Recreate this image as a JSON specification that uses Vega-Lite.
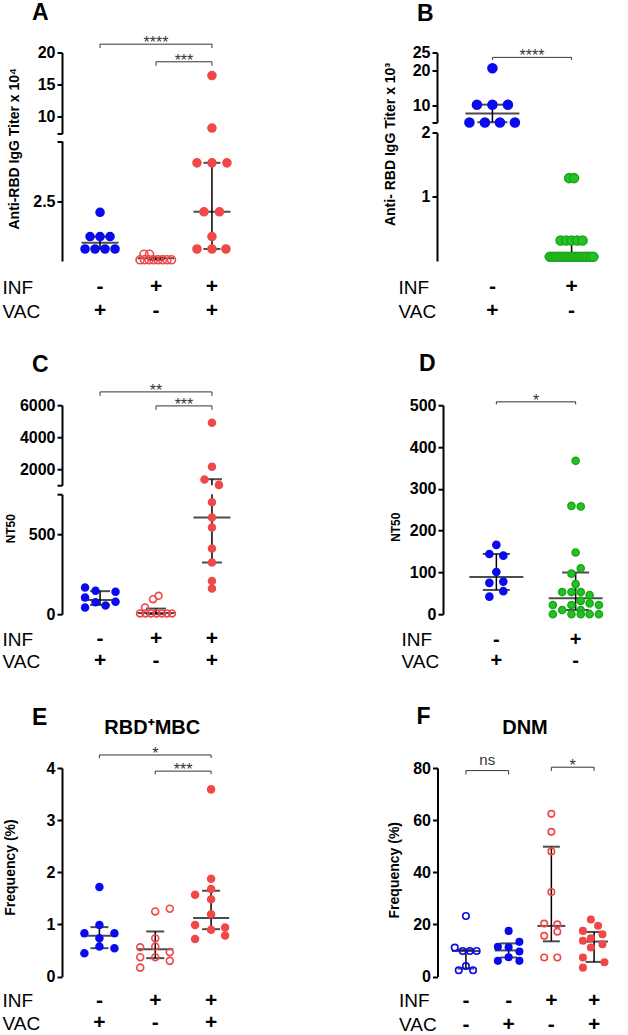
{
"$schema": "https://vega.github.io/schema/vega-lite/v6.json",
"background": "white",
"padding": {"left": 2, "top": 1.5, "right": 0, "bottom": 0},
"spacing": 30.7,
"resolve": {"scale": {"x": "independent", "y": "independent", "xOffset": "independent"}},
"config": {
  "view": {"stroke": null},
  "font": "Liberation Sans",
  "axis": {"grid": false, "domainColor": "#000", "domainWidth": 2, "tickColor": "#000", "tickWidth": 2, "tickSize": 5, "labelFontSize": 16, "labelFontWeight": "bold", "labelColor": "#000", "labelPadding": 2, "titleFontSize": 14, "titleFontWeight": "bold", "titleColor": "#000"},
  "title": {"fontWeight": "bold", "color": "#000", "anchor": "start", "frame": "group", "baseline": "alphabetic", "fontSize": 23},
  "text": {"font": "Liberation Sans"},
  "tick": {"thickness": 2}
},
"datasets": {
  "t3": [{"g":"g1","r":"INF","s":"-"},{"g":"g1","r":"VAC","s":"+"},{"g":"g2","r":"INF","s":"+"},{"g":"g2","r":"VAC","s":"-"},{"g":"g3","r":"INF","s":"+"},{"g":"g3","r":"VAC","s":"+"}],
  "t2": [{"g":"g1","r":"INF","s":"-"},{"g":"g1","r":"VAC","s":"+"},{"g":"g2","r":"INF","s":"+"},{"g":"g2","r":"VAC","s":"-"}],
  "t4": [{"g":"g1","r":"INF","s":"-"},{"g":"g1","r":"VAC","s":"-"},{"g":"g2","r":"INF","s":"-"},{"g":"g2","r":"VAC","s":"+"},{"g":"g3","r":"INF","s":"+"},{"g":"g3","r":"VAC","s":"-"},{"g":"g4","r":"INF","s":"+"},{"g":"g4","r":"VAC","s":"+"}],
  "aP": [
    {"g":"g1","v":2.03,"dx":0,"k":"vac"},{"g":"g1","v":1.02,"dx":-1,"k":"vac"},{"g":"g1","v":1.02,"dx":0,"k":"vac"},{"g":"g1","v":1.02,"dx":1,"k":"vac"},
    {"g":"g1","v":0.5,"dx":-1.5,"k":"vac"},{"g":"g1","v":0.5,"dx":-0.5,"k":"vac"},{"g":"g1","v":0.5,"dx":0.5,"k":"vac"},{"g":"g1","v":0.5,"dx":1.5,"k":"vac"},
    {"g":"g2","v":0.28,"dx":-1.2,"k":"inf"},{"g":"g2","v":0.28,"dx":-0.65,"k":"inf"},
    {"g":"g2","v":0.05,"dx":-1.6,"k":"inf"},{"g":"g2","v":0.05,"dx":-1.15,"k":"inf"},{"g":"g2","v":0.05,"dx":-0.7,"k":"inf"},{"g":"g2","v":0.05,"dx":-0.25,"k":"inf"},
    {"g":"g2","v":0.05,"dx":0.2,"k":"inf"},{"g":"g2","v":0.05,"dx":0.65,"k":"inf"},{"g":"g2","v":0.05,"dx":1.1,"k":"inf"},{"g":"g2","v":0.05,"dx":1.55,"k":"inf"},
    {"g":"g3","v":16.4,"dx":0,"k":"hyb"},{"g":"g3","v":8.2,"dx":0,"k":"hyb"},
    {"g":"g3","v":4.09,"dx":-1.5,"k":"hyb"},{"g":"g3","v":4.09,"dx":0,"k":"hyb"},{"g":"g3","v":4.09,"dx":1.5,"k":"hyb"},
    {"g":"g3","v":2.05,"dx":-0.8,"k":"hyb"},{"g":"g3","v":2.05,"dx":0.75,"k":"hyb"},{"g":"g3","v":1.02,"dx":0,"k":"hyb"},
    {"g":"g3","v":0.5,"dx":-1.5,"k":"hyb"},{"g":"g3","v":0.5,"dx":0,"k":"hyb"},{"g":"g3","v":0.5,"dx":1.4,"k":"hyb"}
  ],
  "aS": [{"g":"g1","med":0.76,"lo":0.5,"hi":1.01},{"g":"g2","med":0.11,"lo":0.05,"hi":0.14},{"g":"g3","med":2.05,"lo":0.5,"hi":4.09}],
  "aK": [{"g1":"g1","g2":"g3","lvl":21.3,"end":20.68,"txt":"****","tg":"g2","tdx":0},{"g1":"g2","g2":"g3","lvl":18.55,"end":17.93,"txt":"***","tg":"g2","tdx":2.8}],
  "bP": [
    {"g":"g1","v":20.5,"dx":0,"k":"vac"},{"g":"g1","v":10.1,"dx":-1.55,"k":"vac"},{"g":"g1","v":10.1,"dx":0,"k":"vac"},{"g":"g1","v":10.1,"dx":1.55,"k":"vac"},
    {"g":"g1","v":5.0,"dx":-2.3,"k":"vac"},{"g":"g1","v":5.0,"dx":-0.75,"k":"vac"},{"g":"g1","v":5.0,"dx":0.75,"k":"vac"},{"g":"g1","v":5.0,"dx":2.25,"k":"vac"},
    {"g":"g2","v":1.29,"dx":-0.25,"k":"conv"},{"g":"g2","v":1.29,"dx":0.25,"k":"conv"},
    {"g":"g2","v":0.32,"dx":-1.1,"k":"conv"},{"g":"g2","v":0.32,"dx":-0.55,"k":"conv"},{"g":"g2","v":0.32,"dx":0,"k":"conv"},{"g":"g2","v":0.32,"dx":0.55,"k":"conv"},{"g":"g2","v":0.32,"dx":1.1,"k":"conv"},
    {"g":"g2","v":0.067,"dx":-2.17,"k":"conv"},{"g":"g2","v":0.067,"dx":-1.88,"k":"conv"},{"g":"g2","v":0.067,"dx":-1.59,"k":"conv"},{"g":"g2","v":0.067,"dx":-1.3,"k":"conv"},
    {"g":"g2","v":0.067,"dx":-1.01,"k":"conv"},{"g":"g2","v":0.067,"dx":-0.72,"k":"conv"},{"g":"g2","v":0.067,"dx":-0.43,"k":"conv"},{"g":"g2","v":0.067,"dx":-0.14,"k":"conv"},
    {"g":"g2","v":0.067,"dx":0.14,"k":"conv"},{"g":"g2","v":0.067,"dx":0.43,"k":"conv"},{"g":"g2","v":0.067,"dx":0.72,"k":"conv"},{"g":"g2","v":0.067,"dx":1.01,"k":"conv"},
    {"g":"g2","v":0.067,"dx":1.3,"k":"conv"},{"g":"g2","v":0.067,"dx":1.59,"k":"conv"},{"g":"g2","v":0.067,"dx":1.88,"k":"conv"},{"g":"g2","v":0.067,"dx":2.17,"k":"conv"}
  ],
  "bS": [{"g":"g1","med":7.6,"lo":5.08,"hi":10.1},{"g":"g2","med":0.07,"lo":0.07,"hi":0.325}],
  "bK": [{"g1":"g1","g2":"g2","lvl":23.6,"end":22.9,"txt":"****","tg":"g1","tdx":3.96}],
  "cP": [
    {"g":"g1","v":167,"dx":-1.5,"k":"vac"},{"g":"g1","v":146,"dx":-0.45,"k":"vac"},{"g":"g1","v":140,"dx":1.55,"k":"vac"},{"g":"g1","v":104,"dx":-1.5,"k":"vac"},
    {"g":"g1","v":75,"dx":-0.45,"k":"vac"},{"g":"g1","v":78,"dx":1.55,"k":"vac"},{"g":"g1","v":55,"dx":0.55,"k":"vac"},{"g":"g1","v":42,"dx":-1.5,"k":"vac"},
    {"g":"g2","v":115,"dx":0.25,"k":"inf"},{"g":"g2","v":94,"dx":-0.3,"k":"inf"},{"g":"g2","v":42,"dx":-1.1,"k":"inf"},
    {"g":"g2","v":5,"dx":-1.6,"k":"inf"},{"g":"g2","v":5,"dx":-1.05,"k":"inf"},{"g":"g2","v":5,"dx":-0.5,"k":"inf"},{"g":"g2","v":5,"dx":0.05,"k":"inf"},
    {"g":"g2","v":5,"dx":0.6,"k":"inf"},{"g":"g2","v":5,"dx":1.1,"k":"inf"},{"g":"g2","v":5,"dx":1.6,"k":"inf"},
    {"g":"g3","v":4900,"dx":0,"k":"hyb"},{"g":"g3","v":2150,"dx":0,"k":"hyb"},{"g":"g3","v":1350,"dx":-0.75,"k":"hyb"},{"g":"g3","v":1020,"dx":0.7,"k":"hyb"},
    {"g":"g3","v":700,"dx":0,"k":"hyb"},{"g":"g3","v":604,"dx":0,"k":"hyb"},{"g":"g3","v":542,"dx":0,"k":"hyb"},{"g":"g3","v":410,"dx":0,"k":"hyb"},
    {"g":"g3","v":323,"dx":0,"k":"hyb"},{"g":"g3","v":208,"dx":0,"k":"hyb"},{"g":"g3","v":160,"dx":0,"k":"hyb"}
  ],
  "cS": [{"g":"g1","med":89,"lo":58,"hi":144},{"g":"g2","med":8,"lo":1,"hi":35},{"g":"g3","med":604,"lo":323,"hi":1375}],
  "cK": [{"g1":"g1","g2":"g3","lvl":6831,"end":6581,"txt":"**","tg":"g2","tdx":0},{"g1":"g2","g2":"g3","lvl":5956,"end":5706,"txt":"***","tg":"g2","tdx":2.8}],
  "dP": [
    {"g":"g1","v":166,"dx":0,"k":"vac"},{"g":"g1","v":144,"dx":-0.75,"k":"vac"},{"g":"g1","v":140,"dx":0.75,"k":"vac"},{"g":"g1","v":101,"dx":0,"k":"vac"},
    {"g":"g1","v":78,"dx":0.75,"k":"vac"},{"g":"g1","v":75,"dx":-0.75,"k":"vac"},{"g":"g1","v":55,"dx":0.75,"k":"vac"},{"g":"g1","v":42,"dx":-0.75,"k":"vac"},
    {"g":"g2","v":367,"dx":0,"k":"conv"},{"g":"g2","v":259,"dx":-0.45,"k":"conv"},{"g":"g2","v":257.6,"dx":0.55,"k":"conv"},{"g":"g2","v":147.6,"dx":0,"k":"conv"},
    {"g":"g2","v":110,"dx":0.55,"k":"conv"},{"g":"g2","v":97,"dx":-0.45,"k":"conv"},{"g":"g2","v":72,"dx":0,"k":"conv"},
    {"g":"g2","v":53,"dx":-1.45,"k":"conv"},{"g":"g2","v":53,"dx":-0.45,"k":"conv"},{"g":"g2","v":53,"dx":0.55,"k":"conv"},{"g":"g2","v":46,"dx":1.5,"k":"conv"},
    {"g":"g2","v":32,"dx":0.55,"k":"conv"},{"g":"g2","v":26,"dx":1.5,"k":"conv"},
    {"g":"g2","v":22,"dx":-2.45,"k":"conv"},{"g":"g2","v":22,"dx":-0.45,"k":"conv"},{"g":"g2","v":22,"dx":2.5,"k":"conv"},
    {"g":"g2","v":10,"dx":-1.45,"k":"conv"},{"g":"g2","v":10,"dx":0.55,"k":"conv"},
    {"g":"g2","v":0,"dx":-2.45,"k":"conv"},{"g":"g2","v":0,"dx":-0.45,"k":"conv"},{"g":"g2","v":0,"dx":0.55,"k":"conv"},{"g":"g2","v":0,"dx":1.5,"k":"conv"},{"g":"g2","v":0,"dx":2.5,"k":"conv"}
  ],
  "dS": [{"g":"g1","med":89,"lo":58,"hi":144},{"g":"g2","med":38.3,"lo":10.3,"hi":99.7}],
  "dK": [{"g1":"g1","g2":"g2","lvl":508,"end":502,"txt":"*","tg":"g1","tdx":4.26}],
  "eP": [
    {"g":"g1","v":1.715,"dx":0,"k":"vac"},{"g":"g1","v":0.99,"dx":0,"k":"vac"},{"g":"g1","v":0.83,"dx":-1.5,"k":"vac"},{"g":"g1","v":0.83,"dx":1.5,"k":"vac"},
    {"g":"g1","v":0.735,"dx":0,"k":"vac"},{"g":"g1","v":0.575,"dx":0,"k":"vac"},{"g":"g1","v":0.543,"dx":1.5,"k":"vac"},{"g":"g1","v":0.447,"dx":-1.5,"k":"vac"},
    {"g":"g2","v":1.248,"dx":0,"k":"inf"},{"g":"g2","v":1.3,"dx":1.45,"k":"inf"},{"g":"g2","v":0.735,"dx":0,"k":"inf"},{"g":"g2","v":0.575,"dx":0,"k":"inf"},
    {"g":"g2","v":0.37,"dx":0,"k":"inf"},{"g":"g2","v":0.56,"dx":-1.5,"k":"inf"},{"g":"g2","v":0.37,"dx":-1.5,"k":"inf"},{"g":"g2","v":0.17,"dx":-1.5,"k":"inf"},
    {"g":"g2","v":0.466,"dx":1.45,"k":"inf"},{"g":"g2","v":0.3,"dx":1.45,"k":"inf"},
    {"g":"g3","v":3.59,"dx":0,"k":"hyb"},{"g":"g3","v":1.874,"dx":0,"k":"hyb"},{"g":"g3","v":1.68,"dx":0,"k":"hyb"},{"g":"g3","v":1.567,"dx":-1.6,"k":"hyb"},
    {"g":"g3","v":1.484,"dx":0,"k":"hyb"},{"g":"g3","v":1.196,"dx":0,"k":"hyb"},{"g":"g3","v":0.99,"dx":-1.6,"k":"hyb"},{"g":"g3","v":0.94,"dx":1.4,"k":"hyb"},
    {"g":"g3","v":0.895,"dx":0,"k":"hyb"},{"g":"g3","v":0.787,"dx":1.4,"k":"hyb"},{"g":"g3","v":0.72,"dx":-1.6,"k":"hyb"}
  ],
  "eS": [{"g":"g1","med":0.78,"lo":0.543,"hi":0.947},{"g":"g2","med":0.525,"lo":0.352,"hi":0.864},{"g":"g3","med":1.12,"lo":0.908,"hi":1.645}],
  "eK": [{"g1":"g1","g2":"g3","lvl":4.25,"end":4.19,"txt":"*","tg":"g2","tdx":0},{"g1":"g2","g2":"g3","lvl":3.94,"end":3.88,"txt":"***","tg":"g2","tdx":2.79}],
  "fP": [
    {"g":"g1","v":23.2,"dx":0,"k":"naive"},{"g":"g1","v":11.1,"dx":-1.4,"k":"naive"},{"g":"g1","v":9.8,"dx":-0.4,"k":"naive"},{"g":"g1","v":9.8,"dx":0.5,"k":"naive"},
    {"g":"g1","v":9.8,"dx":1.35,"k":"naive"},{"g":"g1","v":4.0,"dx":0,"k":"naive"},{"g":"g1","v":2.4,"dx":-0.9,"k":"naive"},{"g":"g1","v":2.4,"dx":0.9,"k":"naive"},
    {"g":"g2","v":17.5,"dx":0,"k":"vac"},{"g":"g2","v":13.3,"dx":1.35,"k":"vac"},{"g":"g2","v":11.4,"dx":-1.35,"k":"vac"},{"g":"g2","v":11.2,"dx":0,"k":"vac"},
    {"g":"g2","v":9.6,"dx":1.35,"k":"vac"},{"g":"g2","v":7.4,"dx":0,"k":"vac"},{"g":"g2","v":6.0,"dx":-1.35,"k":"vac"},{"g":"g2","v":6.0,"dx":1.35,"k":"vac"},
    {"g":"g3","v":62.4,"dx":0,"k":"inf"},{"g":"g3","v":55.5,"dx":0,"k":"inf"},{"g":"g3","v":48,"dx":0,"k":"inf"},{"g":"g3","v":32.4,"dx":0,"k":"inf"},
    {"g":"g3","v":20.3,"dx":-0.9,"k":"inf"},{"g":"g3","v":20.0,"dx":0.75,"k":"inf"},{"g":"g3","v":15.6,"dx":-0.9,"k":"inf"},{"g":"g3","v":17.2,"dx":0.75,"k":"inf"},
    {"g":"g3","v":7.3,"dx":-0.9,"k":"inf"},{"g":"g3","v":7.3,"dx":0.75,"k":"inf"},
    {"g":"g4","v":21.9,"dx":-0.4,"k":"hyb"},{"g":"g4","v":19.5,"dx":0.5,"k":"hyb"},{"g":"g4","v":17.5,"dx":-1.4,"k":"hyb"},{"g":"g4","v":16.2,"dx":1.05,"k":"hyb"},
    {"g":"g4","v":14.7,"dx":-0.4,"k":"hyb"},{"g":"g4","v":13.7,"dx":-1.4,"k":"hyb"},{"g":"g4","v":12.4,"dx":1.05,"k":"hyb"},{"g":"g4","v":11.1,"dx":-0.4,"k":"hyb"},
    {"g":"g4","v":7.3,"dx":-1.4,"k":"hyb"},{"g":"g4","v":5.5,"dx":1.3,"k":"hyb"},{"g":"g4","v":3.4,"dx":-1.4,"k":"hyb"}
  ],
  "fS": [{"g":"g1","med":9.8,"lo":3.1,"hi":10.3},{"g":"g2","med":10.0,"lo":7.3,"hi":12.7},{"g":"g3","med":19.4,"lo":13.5,"hi":49.8},{"g":"g4","med":13.4,"lo":5.6,"hi":17.1}],
  "fK": [{"g1":"g1","g2":"g2","lvl":79,"end":77.5,"txt":"ns","tg":"g1","tdx":2.68},{"g1":"g3","g2":"g4","lvl":80.3,"end":78.9,"txt":"*","tg":"g3","tdx":2.68}]
},
"vconcat": [
{
  "spacing": 132,
  "resolve": {"scale": {"x": "independent", "y": "independent", "xOffset": "independent"}},
  "hconcat": [
    {
      "title": {"text": "A", "dx": -30, "offset": 9.7},
      "width": 188, "height": 208.5,
      "encoding": {"x": {"field": "g", "type": "nominal", "scale": {"type": "band", "domain": ["g1","g2","g3"], "paddingInner": 0, "paddingOuter": 0.18}, "axis": {"title": null, "labels": false, "tickSize": 6}}},
      "resolve": {"scale": {"y": "independent"}, "axis": {"y": "independent"}},
      "layer": [
        {"data": {"name": "aP"}, "transform": [{"filter": "datum.v > 6"}], "mark": {"type": "circle", "size": 64, "strokeWidth": 1.6, "opacity": 1}, "encoding": {"xOffset": {"field": "dx", "type": "quantitative", "scale": {"domain": [-2.8, 2.8]}}, "y": {"field": "v", "type": "quantitative", "scale": {"domain": [7.35, 20], "range": [81, 0], "nice": false, "zero": false}, "axis": {"orient": "left", "values": [7.35, 10, 15, 20], "labelExpr": "datum.value < 8 ? '' : format(datum.value, 'd')", "title": null}}, "fill": {"field": "k", "type": "nominal", "scale": {"domain": ["naive","vac","inf","hyb","conv"], "range": ["transparent","#0a0aee","transparent","#f04848","#22c322"]}, "legend": null}, "stroke": {"field": "k", "type": "nominal", "scale": {"domain": ["naive","vac","inf","hyb","conv"], "range": ["#0a0aee","#0a0aee","#f04848","#f04848","#1aa81a"]}, "legend": null}}},
        {"data": {"name": "aK"}, "mark": {"type": "rule", "strokeWidth": 1, "color": "#333"}, "encoding": {"x": {"field": "g1", "type": "nominal", "axis": null}, "x2": {"field": "g2"}, "y": {"field": "lvl", "type": "quantitative", "scale": {"domain": [7.35, 20], "range": [81, 0], "nice": false, "zero": false}, "axis": null}}},
        {"data": {"name": "aK"}, "mark": {"type": "rule", "strokeWidth": 1, "color": "#333"}, "encoding": {"x": {"field": "g1", "type": "nominal", "axis": null}, "y": {"field": "lvl", "type": "quantitative", "scale": {"domain": [7.35, 20], "range": [81, 0], "nice": false, "zero": false}, "axis": null}, "y2": {"field": "end"}}},
        {"data": {"name": "aK"}, "mark": {"type": "rule", "strokeWidth": 1, "color": "#333"}, "encoding": {"x": {"field": "g2", "type": "nominal", "axis": null}, "y": {"field": "lvl", "type": "quantitative", "scale": {"domain": [7.35, 20], "range": [81, 0], "nice": false, "zero": false}, "axis": null}, "y2": {"field": "end"}}},
        {"data": {"name": "aK"}, "mark": {"type": "text", "fontSize": 16, "baseline": "alphabetic", "dy": 4, "color": "#333"}, "encoding": {"x": {"field": "tg", "type": "nominal", "axis": null}, "xOffset": {"field": "tdx", "type": "quantitative", "scale": {"domain": [-2.8, 2.8]}}, "y": {"field": "lvl", "type": "quantitative", "scale": {"domain": [7.35, 20], "range": [81, 0], "nice": false, "zero": false}, "axis": null}, "text": {"field": "txt"}}},
        {"data": {"name": "aS"}, "mark": {"type": "rule", "strokeWidth": 1.5, "color": "#000"}, "encoding": {"y": {"field": "lo", "type": "quantitative", "scale": {"domain": [0, 5], "range": [208.5, 88.5], "nice": false, "zero": false, "clamp": true}, "axis": {"orient": "left", "values": [2.5, 5], "labelExpr": "datum.value == 5 ? '' : format(datum.value, '.1f')", "title": "Anti-RBD IgG Titer x 10⁴", "titleX": -41, "titleY": 95.8}}, "y2": {"field": "hi"}}},
        {"data": {"name": "aS"}, "mark": {"type": "tick", "size": 37, "color": "#000"}, "encoding": {"y": {"field": "med", "type": "quantitative", "scale": {"domain": [0, 5], "range": [208.5, 88.5], "nice": false, "zero": false}, "axis": null}}},
        {"data": {"name": "aS"}, "mark": {"type": "tick", "size": 17, "color": "#000"}, "encoding": {"y": {"field": "lo", "type": "quantitative", "scale": {"domain": [0, 5], "range": [208.5, 88.5], "nice": false, "zero": false}, "axis": null}}},
        {"data": {"name": "aS"}, "mark": {"type": "tick", "size": 17, "color": "#000"}, "encoding": {"y": {"field": "hi", "type": "quantitative", "scale": {"domain": [0, 5], "range": [208.5, 88.5], "nice": false, "zero": false}, "axis": null}}},
        {"data": {"name": "aP"}, "transform": [{"filter": "datum.v < 6"}], "mark": {"type": "circle", "size": 64, "strokeWidth": 1.6, "opacity": 1}, "encoding": {"xOffset": {"field": "dx", "type": "quantitative", "scale": {"domain": [-2.8, 2.8]}}, "y": {"field": "v", "type": "quantitative", "scale": {"domain": [0, 5], "range": [208.5, 88.5], "nice": false, "zero": false}, "axis": null}, "fill": {"field": "k", "type": "nominal", "legend": null}, "stroke": {"field": "k", "type": "nominal", "legend": null}}},
        {"data": {"name": "t3"}, "mark": {"type": "text", "fontSize": 21, "fontWeight": "bold", "baseline": "middle"}, "encoding": {"y": {"field": "r", "type": "nominal", "scale": {"type": "point", "domain": ["INF","VAC"], "range": [234.5, 258.5], "padding": 0}, "axis": {"orient": "left", "title": null, "domain": false, "ticks": false, "tickSize": 0, "labelPadding": 60, "labelAlign": "left", "labelFontWeight": "normal", "labelFontSize": 19, "labelBaseline": "middle"}}, "text": {"field": "s"}}}
      ]
    },
    {
      "title": {"text": "B", "dx": -20, "offset": 19},
      "width": 190, "height": 208.5,
      "encoding": {"x": {"field": "g", "type": "nominal", "scale": {"type": "band", "domain": ["g1","g2"], "paddingInner": 0, "paddingOuter": 0.2}, "axis": {"title": null, "labels": false, "tickSize": 6}}},
      "resolve": {"scale": {"y": "independent"}, "axis": {"y": "independent"}},
      "layer": [
        {"data": {"name": "bS"}, "mark": {"type": "rule", "strokeWidth": 1.5, "color": "#000"}, "encoding": {"y": {"field": "lo", "type": "quantitative", "scale": {"domain": [5, 25], "range": [70, 0], "nice": false, "zero": false, "clamp": true}, "axis": {"orient": "left", "values": [5, 10, 20, 25], "labelExpr": "datum.value < 6 ? '' : format(datum.value, 'd')", "title": null}}, "y2": {"field": "hi"}}},
        {"data": {"name": "bS"}, "transform": [{"filter": "datum.med > 3"}], "mark": {"type": "tick", "size": 54, "color": "#000"}, "encoding": {"y": {"field": "med", "type": "quantitative", "scale": {"domain": [5, 25], "range": [70, 0], "nice": false, "zero": false}, "axis": null}}},
        {"data": {"name": "bS"}, "transform": [{"filter": "datum.lo > 3"}], "mark": {"type": "tick", "size": 30, "color": "#000"}, "encoding": {"y": {"field": "lo", "type": "quantitative", "scale": {"domain": [5, 25], "range": [70, 0], "nice": false, "zero": false}, "axis": null}}},
        {"data": {"name": "bS"}, "transform": [{"filter": "datum.hi > 3"}], "mark": {"type": "tick", "size": 30, "color": "#000"}, "encoding": {"y": {"field": "hi", "type": "quantitative", "scale": {"domain": [5, 25], "range": [70, 0], "nice": false, "zero": false}, "axis": null}}},
        {"data": {"name": "bP"}, "transform": [{"filter": "datum.v > 3"}], "mark": {"type": "circle", "size": 80, "strokeWidth": 1.6, "opacity": 1}, "encoding": {"xOffset": {"field": "dx", "type": "quantitative", "scale": {"domain": [-3.96, 3.96]}}, "y": {"field": "v", "type": "quantitative", "scale": {"domain": [5, 25], "range": [70, 0], "nice": false, "zero": false}, "axis": null}, "fill": {"field": "k", "type": "nominal", "scale": {"domain": ["naive","vac","inf","hyb","conv"], "range": ["transparent","#0a0aee","transparent","#f04848","#22c322"]}, "legend": null}, "stroke": {"field": "k", "type": "nominal", "scale": {"domain": ["naive","vac","inf","hyb","conv"], "range": ["#0a0aee","#0a0aee","#f04848","#f04848","#1aa81a"]}, "legend": null}}},
        {"data": {"name": "bK"}, "mark": {"type": "rule", "strokeWidth": 1, "color": "#333"}, "encoding": {"x": {"field": "g1", "type": "nominal", "axis": null}, "x2": {"field": "g2"}, "y": {"field": "lvl", "type": "quantitative", "scale": {"domain": [5, 25], "range": [70, 0], "nice": false, "zero": false}, "axis": null}}},
        {"data": {"name": "bK"}, "mark": {"type": "rule", "strokeWidth": 1, "color": "#333"}, "encoding": {"x": {"field": "g1", "type": "nominal", "axis": null}, "y": {"field": "lvl", "type": "quantitative", "scale": {"domain": [5, 25], "range": [70, 0], "nice": false, "zero": false}, "axis": null}, "y2": {"field": "end"}}},
        {"data": {"name": "bK"}, "mark": {"type": "rule", "strokeWidth": 1, "color": "#333"}, "encoding": {"x": {"field": "g2", "type": "nominal", "axis": null}, "y": {"field": "lvl", "type": "quantitative", "scale": {"domain": [5, 25], "range": [70, 0], "nice": false, "zero": false}, "axis": null}, "y2": {"field": "end"}}},
        {"data": {"name": "bK"}, "mark": {"type": "text", "fontSize": 16, "baseline": "alphabetic", "dy": 4, "color": "#333"}, "encoding": {"x": {"field": "tg", "type": "nominal", "axis": null}, "xOffset": {"field": "tdx", "type": "quantitative", "scale": {"domain": [-3.96, 3.96]}}, "y": {"field": "lvl", "type": "quantitative", "scale": {"domain": [5, 25], "range": [70, 0], "nice": false, "zero": false}, "axis": null}, "text": {"field": "txt"}}},
        {"data": {"name": "bS"}, "mark": {"type": "rule", "strokeWidth": 1.5, "color": "#000"}, "encoding": {"y": {"field": "lo", "type": "quantitative", "scale": {"domain": [0, 2], "range": [208.5, 80], "nice": false, "zero": false, "clamp": true}, "axis": {"orient": "left", "values": [1, 2], "labelExpr": "format(datum.value, 'd')", "title": "Anti- RBD IgG Titer x 10³", "titleX": -40, "titleY": 91.5}}, "y2": {"field": "hi"}}},
        {"data": {"name": "bS"}, "transform": [{"filter": "datum.med < 3"}], "mark": {"type": "tick", "size": 54, "color": "#000"}, "encoding": {"y": {"field": "med", "type": "quantitative", "scale": {"domain": [0, 2], "range": [208.5, 80], "nice": false, "zero": false}, "axis": null}}},
        {"data": {"name": "bS"}, "transform": [{"filter": "datum.lo < 3"}], "mark": {"type": "tick", "size": 30, "color": "#000"}, "encoding": {"y": {"field": "lo", "type": "quantitative", "scale": {"domain": [0, 2], "range": [208.5, 80], "nice": false, "zero": false}, "axis": null}}},
        {"data": {"name": "bS"}, "transform": [{"filter": "datum.hi < 3"}], "mark": {"type": "tick", "size": 30, "color": "#000"}, "encoding": {"y": {"field": "hi", "type": "quantitative", "scale": {"domain": [0, 2], "range": [208.5, 80], "nice": false, "zero": false}, "axis": null}}},
        {"data": {"name": "bP"}, "transform": [{"filter": "datum.v < 3"}], "mark": {"type": "circle", "size": 80, "strokeWidth": 1.6, "opacity": 1}, "encoding": {"xOffset": {"field": "dx", "type": "quantitative", "scale": {"domain": [-3.96, 3.96]}}, "y": {"field": "v", "type": "quantitative", "scale": {"domain": [0, 2], "range": [208.5, 80], "nice": false, "zero": false}, "axis": null}, "fill": {"field": "k", "type": "nominal", "legend": null}, "stroke": {"field": "k", "type": "nominal", "legend": null}}},
        {"data": {"name": "t2"}, "mark": {"type": "text", "fontSize": 21, "fontWeight": "bold", "baseline": "middle"}, "encoding": {"y": {"field": "r", "type": "nominal", "scale": {"type": "point", "domain": ["INF","VAC"], "range": [234.5, 258.5], "padding": 0}, "axis": {"orient": "left", "title": null, "domain": false, "ticks": false, "tickSize": 0, "labelPadding": 39, "labelAlign": "left", "labelFontWeight": "normal", "labelFontSize": 19, "labelBaseline": "middle"}}, "text": {"field": "s"}}}
      ]
    }
  ]
},
{
  "spacing": 34.8,
  "resolve": {"scale": {"x": "independent", "y": "independent", "xOffset": "independent"}},
  "vconcat": [
    {
      "spacing": 139,
      "resolve": {"scale": {"x": "independent", "y": "independent", "xOffset": "independent"}},
      "hconcat": [
        {
          "title": {"text": "C", "dx": -30, "offset": 5.6},
          "width": 188, "height": 209,
          "encoding": {"x": {"field": "g", "type": "nominal", "scale": {"type": "band", "domain": ["g1","g2","g3"], "paddingInner": 0, "paddingOuter": 0.18}, "axis": {"title": null, "labels": false, "tickSize": 6}}},
          "resolve": {"scale": {"y": "independent"}, "axis": {"y": "independent"}},
          "layer": [
            {"data": {"name": "cS"}, "mark": {"type": "rule", "strokeWidth": 1.5, "color": "#000"}, "encoding": {"y": {"field": "lo", "type": "quantitative", "scale": {"domain": [1000, 6000], "range": [80, 0], "nice": false, "zero": false, "clamp": true}, "axis": {"orient": "left", "values": [1000, 2000, 4000, 6000], "labelExpr": "datum.value < 1500 ? '' : format(datum.value, 'd')", "title": null}}, "y2": {"field": "hi"}}},
            {"data": {"name": "cS"}, "transform": [{"filter": "datum.hi > 900"}], "mark": {"type": "tick", "size": 20, "color": "#000"}, "encoding": {"y": {"field": "hi", "type": "quantitative", "scale": {"domain": [1000, 6000], "range": [80, 0], "nice": false, "zero": false}, "axis": null}}},
            {"data": {"name": "cP"}, "transform": [{"filter": "datum.v > 900"}], "mark": {"type": "circle", "size": 48, "strokeWidth": 1.6, "opacity": 1}, "encoding": {"xOffset": {"field": "dx", "type": "quantitative", "scale": {"domain": [-2.8, 2.8]}}, "y": {"field": "v", "type": "quantitative", "scale": {"domain": [1000, 6000], "range": [80, 0], "nice": false, "zero": false}, "axis": null}, "fill": {"field": "k", "type": "nominal", "scale": {"domain": ["naive","vac","inf","hyb","conv"], "range": ["transparent","#0a0aee","transparent","#f04848","#22c322"]}, "legend": null}, "stroke": {"field": "k", "type": "nominal", "scale": {"domain": ["naive","vac","inf","hyb","conv"], "range": ["#0a0aee","#0a0aee","#f04848","#f04848","#1aa81a"]}, "legend": null}}},
            {"data": {"name": "cK"}, "mark": {"type": "rule", "strokeWidth": 1, "color": "#333"}, "encoding": {"x": {"field": "g1", "type": "nominal", "axis": null}, "x2": {"field": "g2"}, "y": {"field": "lvl", "type": "quantitative", "scale": {"domain": [1000, 6000], "range": [80, 0], "nice": false, "zero": false}, "axis": null}}},
            {"data": {"name": "cK"}, "mark": {"type": "rule", "strokeWidth": 1, "color": "#333"}, "encoding": {"x": {"field": "g1", "type": "nominal", "axis": null}, "y": {"field": "lvl", "type": "quantitative", "scale": {"domain": [1000, 6000], "range": [80, 0], "nice": false, "zero": false}, "axis": null}, "y2": {"field": "end"}}},
            {"data": {"name": "cK"}, "mark": {"type": "rule", "strokeWidth": 1, "color": "#333"}, "encoding": {"x": {"field": "g2", "type": "nominal", "axis": null}, "y": {"field": "lvl", "type": "quantitative", "scale": {"domain": [1000, 6000], "range": [80, 0], "nice": false, "zero": false}, "axis": null}, "y2": {"field": "end"}}},
            {"data": {"name": "cK"}, "mark": {"type": "text", "fontSize": 16, "baseline": "alphabetic", "dy": 4, "color": "#333"}, "encoding": {"x": {"field": "tg", "type": "nominal", "axis": null}, "xOffset": {"field": "tdx", "type": "quantitative", "scale": {"domain": [-2.8, 2.8]}}, "y": {"field": "lvl", "type": "quantitative", "scale": {"domain": [1000, 6000], "range": [80, 0], "nice": false, "zero": false}, "axis": null}, "text": {"field": "txt"}}},
            {"data": {"name": "cS"}, "mark": {"type": "rule", "strokeWidth": 1.5, "color": "#000"}, "encoding": {"y": {"field": "lo", "type": "quantitative", "scale": {"domain": [0, 750], "range": [209, 89], "nice": false, "zero": false, "clamp": true}, "axis": {"orient": "left", "values": [0, 500, 750], "labelExpr": "datum.value > 600 ? '' : format(datum.value, 'd')", "title": "NT50", "titleFontSize": 12, "titleX": -45, "titleY": 123}}, "y2": {"field": "hi"}}},
            {"data": {"name": "cS"}, "mark": {"type": "tick", "size": 37, "color": "#000"}, "encoding": {"y": {"field": "med", "type": "quantitative", "scale": {"domain": [0, 750], "range": [209, 89], "nice": false, "zero": false}, "axis": null}}},
            {"data": {"name": "cS"}, "mark": {"type": "tick", "size": 20, "color": "#000"}, "encoding": {"y": {"field": "lo", "type": "quantitative", "scale": {"domain": [0, 750], "range": [209, 89], "nice": false, "zero": false}, "axis": null}}},
            {"data": {"name": "cS"}, "transform": [{"filter": "datum.hi < 900"}], "mark": {"type": "tick", "size": 20, "color": "#000"}, "encoding": {"y": {"field": "hi", "type": "quantitative", "scale": {"domain": [0, 750], "range": [209, 89], "nice": false, "zero": false}, "axis": null}}},
            {"data": {"name": "cP"}, "transform": [{"filter": "datum.v < 900"}], "mark": {"type": "circle", "size": 48, "strokeWidth": 1.6, "opacity": 1}, "encoding": {"xOffset": {"field": "dx", "type": "quantitative", "scale": {"domain": [-2.8, 2.8]}}, "y": {"field": "v", "type": "quantitative", "scale": {"domain": [0, 750], "range": [209, 89], "nice": false, "zero": false}, "axis": null}, "fill": {"field": "k", "type": "nominal", "legend": null}, "stroke": {"field": "k", "type": "nominal", "legend": null}}},
            {"data": {"name": "t3"}, "mark": {"type": "text", "fontSize": 21, "fontWeight": "bold", "baseline": "middle"}, "encoding": {"y": {"field": "r", "type": "nominal", "scale": {"type": "point", "domain": ["INF","VAC"], "range": [234, 256], "padding": 0}, "axis": {"orient": "left", "title": null, "domain": false, "ticks": false, "tickSize": 0, "labelPadding": 60, "labelAlign": "left", "labelFontWeight": "normal", "labelFontSize": 19, "labelBaseline": "middle"}}, "text": {"field": "s"}}}
          ]
        },
        {
          "title": {"text": "D", "dx": -24, "offset": 17.2},
          "width": 186, "height": 209,
          "encoding": {"x": {"field": "g", "type": "nominal", "scale": {"type": "band", "domain": ["g1","g2"], "paddingInner": 0, "paddingOuter": 0.173}, "axis": {"title": null, "labels": false, "tickSize": 6}}},
          "resolve": {"scale": {"y": "independent"}, "axis": {"y": "independent"}},
          "layer": [
            {"data": {"name": "dS"}, "mark": {"type": "rule", "strokeWidth": 1.5, "color": "#000"}, "encoding": {"y": {"field": "lo", "type": "quantitative", "scale": {"domain": [0, 500], "nice": false, "zero": false}, "axis": {"orient": "left", "values": [0, 100, 200, 300, 400, 500], "format": "d", "title": "NT50", "titleFontSize": 12, "titleX": -41, "titleY": 121.5}}, "y2": {"field": "hi"}}},
            {"data": {"name": "dS"}, "mark": {"type": "tick", "size": 54, "color": "#000"}, "encoding": {"y": {"field": "med", "type": "quantitative", "scale": {"domain": [0, 500], "nice": false, "zero": false}, "axis": null}}},
            {"data": {"name": "dS"}, "mark": {"type": "tick", "size": 27, "color": "#000"}, "encoding": {"y": {"field": "lo", "type": "quantitative", "scale": {"domain": [0, 500], "nice": false, "zero": false}, "axis": null}}},
            {"data": {"name": "dS"}, "mark": {"type": "tick", "size": 27, "color": "#000"}, "encoding": {"y": {"field": "hi", "type": "quantitative", "scale": {"domain": [0, 500], "nice": false, "zero": false}, "axis": null}}},
            {"data": {"name": "dP"}, "mark": {"type": "circle", "size": 50, "strokeWidth": 1.6, "opacity": 1}, "encoding": {"xOffset": {"field": "dx", "type": "quantitative", "scale": {"domain": [-4.26, 4.26]}}, "y": {"field": "v", "type": "quantitative", "scale": {"domain": [0, 500], "nice": false, "zero": false}, "axis": null}, "fill": {"field": "k", "type": "nominal", "scale": {"domain": ["naive","vac","inf","hyb","conv"], "range": ["transparent","#0a0aee","transparent","#f04848","#22c322"]}, "legend": null}, "stroke": {"field": "k", "type": "nominal", "scale": {"domain": ["naive","vac","inf","hyb","conv"], "range": ["#0a0aee","#0a0aee","#f04848","#f04848","#1aa81a"]}, "legend": null}}},
            {"data": {"name": "dK"}, "mark": {"type": "rule", "strokeWidth": 1, "color": "#333"}, "encoding": {"x": {"field": "g1", "type": "nominal", "axis": null}, "x2": {"field": "g2"}, "y": {"field": "lvl", "type": "quantitative", "scale": {"domain": [0, 500], "nice": false, "zero": false}, "axis": null}}},
            {"data": {"name": "dK"}, "mark": {"type": "rule", "strokeWidth": 1, "color": "#333"}, "encoding": {"x": {"field": "g1", "type": "nominal", "axis": null}, "y": {"field": "lvl", "type": "quantitative", "scale": {"domain": [0, 500], "nice": false, "zero": false}, "axis": null}, "y2": {"field": "end"}}},
            {"data": {"name": "dK"}, "mark": {"type": "rule", "strokeWidth": 1, "color": "#333"}, "encoding": {"x": {"field": "g2", "type": "nominal", "axis": null}, "y": {"field": "lvl", "type": "quantitative", "scale": {"domain": [0, 500], "nice": false, "zero": false}, "axis": null}, "y2": {"field": "end"}}},
            {"data": {"name": "dK"}, "mark": {"type": "text", "fontSize": 16, "baseline": "alphabetic", "dy": 4, "color": "#333"}, "encoding": {"x": {"field": "tg", "type": "nominal", "axis": null}, "xOffset": {"field": "tdx", "type": "quantitative", "scale": {"domain": [-4.26, 4.26]}}, "y": {"field": "lvl", "type": "quantitative", "scale": {"domain": [0, 500], "nice": false, "zero": false}, "axis": null}, "text": {"field": "txt"}}},
            {"data": {"name": "t2"}, "mark": {"type": "text", "fontSize": 20, "fontWeight": "bold", "baseline": "middle"}, "encoding": {"y": {"field": "r", "type": "nominal", "scale": {"type": "point", "domain": ["INF","VAC"], "range": [234.5, 256], "padding": 0}, "axis": {"orient": "left", "title": null, "domain": false, "ticks": false, "tickSize": 0, "labelPadding": 42, "labelAlign": "left", "labelFontWeight": "normal", "labelFontSize": 19, "labelBaseline": "middle"}}, "text": {"field": "s"}}}
          ]
        }
      ]
    },
    {
      "spacing": 138.5,
      "resolve": {"scale": {"x": "independent", "y": "independent", "xOffset": "independent"}},
      "hconcat": [
        {
          "title": {"text": "E", "dx": -30, "offset": -11.5},
          "vconcat": [
            {
              "title": {"text": "RBD⁺MBC", "anchor": "middle", "fontSize": 20, "offset": 7.8, "dx": -3},
              "width": 186.5, "height": 208.5,
              "encoding": {"x": {"field": "g", "type": "nominal", "scale": {"type": "band", "domain": ["g1","g2","g3"], "paddingInner": 0, "paddingOuter": 0.17}, "axis": {"title": null, "labels": false, "tickSize": 6}}},
              "resolve": {"scale": {"y": "independent"}, "axis": {"y": "independent"}},
              "layer": [
                {"data": {"name": "eS"}, "mark": {"type": "rule", "strokeWidth": 1.5, "color": "#000"}, "encoding": {"y": {"field": "lo", "type": "quantitative", "scale": {"domain": [0, 4], "nice": false, "zero": false}, "axis": {"orient": "left", "values": [0, 1, 2, 3, 4], "format": "d", "title": "Frequency (%)", "titleX": -45, "titleY": 99}}, "y2": {"field": "hi"}}},
                {"data": {"name": "eS"}, "mark": {"type": "tick", "size": 36, "color": "#000"}, "encoding": {"y": {"field": "med", "type": "quantitative", "scale": {"domain": [0, 4], "nice": false, "zero": false}, "axis": null}}},
                {"data": {"name": "eS"}, "mark": {"type": "tick", "size": 18, "color": "#000"}, "encoding": {"y": {"field": "lo", "type": "quantitative", "scale": {"domain": [0, 4], "nice": false, "zero": false}, "axis": null}}},
                {"data": {"name": "eS"}, "mark": {"type": "tick", "size": 18, "color": "#000"}, "encoding": {"y": {"field": "hi", "type": "quantitative", "scale": {"domain": [0, 4], "nice": false, "zero": false}, "axis": null}}},
                {"data": {"name": "eP"}, "mark": {"type": "circle", "size": 48, "strokeWidth": 1.6, "opacity": 1}, "encoding": {"xOffset": {"field": "dx", "type": "quantitative", "scale": {"domain": [-2.79, 2.79]}}, "y": {"field": "v", "type": "quantitative", "scale": {"domain": [0, 4], "nice": false, "zero": false}, "axis": null}, "fill": {"field": "k", "type": "nominal", "scale": {"domain": ["naive","vac","inf","hyb","conv"], "range": ["transparent","#0a0aee","transparent","#f04848","#22c322"]}, "legend": null}, "stroke": {"field": "k", "type": "nominal", "scale": {"domain": ["naive","vac","inf","hyb","conv"], "range": ["#0a0aee","#0a0aee","#f04848","#f04848","#1aa81a"]}, "legend": null}}},
                {"data": {"name": "eK"}, "mark": {"type": "rule", "strokeWidth": 1, "color": "#333"}, "encoding": {"x": {"field": "g1", "type": "nominal", "axis": null}, "x2": {"field": "g2"}, "y": {"field": "lvl", "type": "quantitative", "scale": {"domain": [0, 4], "nice": false, "zero": false}, "axis": null}}},
                {"data": {"name": "eK"}, "mark": {"type": "rule", "strokeWidth": 1, "color": "#333"}, "encoding": {"x": {"field": "g1", "type": "nominal", "axis": null}, "y": {"field": "lvl", "type": "quantitative", "scale": {"domain": [0, 4], "nice": false, "zero": false}, "axis": null}, "y2": {"field": "end"}}},
                {"data": {"name": "eK"}, "mark": {"type": "rule", "strokeWidth": 1, "color": "#333"}, "encoding": {"x": {"field": "g2", "type": "nominal", "axis": null}, "y": {"field": "lvl", "type": "quantitative", "scale": {"domain": [0, 4], "nice": false, "zero": false}, "axis": null}, "y2": {"field": "end"}}},
                {"data": {"name": "eK"}, "mark": {"type": "text", "fontSize": 16, "baseline": "alphabetic", "dy": 4, "color": "#333"}, "encoding": {"x": {"field": "tg", "type": "nominal", "axis": null}, "xOffset": {"field": "tdx", "type": "quantitative", "scale": {"domain": [-2.79, 2.79]}}, "y": {"field": "lvl", "type": "quantitative", "scale": {"domain": [0, 4], "nice": false, "zero": false}, "axis": null}, "text": {"field": "txt"}}},
                {"data": {"name": "t3"}, "mark": {"type": "text", "fontSize": 21, "fontWeight": "bold", "baseline": "middle"}, "encoding": {"y": {"field": "r", "type": "nominal", "scale": {"type": "point", "domain": ["INF","VAC"], "range": [232.7, 255], "padding": 0}, "axis": {"orient": "left", "title": null, "domain": false, "ticks": false, "tickSize": 0, "labelPadding": 60, "labelAlign": "left", "labelFontWeight": "normal", "labelFontSize": 19, "labelBaseline": "middle"}}, "text": {"field": "s"}}}
              ]
            }
          ]
        },
        {
          "title": {"text": "F", "dx": -21, "offset": -10.8},
          "vconcat": [
            {
              "title": {"text": "DNM", "anchor": "middle", "fontSize": 20, "offset": 14.4, "dx": -5},
              "width": 185, "height": 208.5,
              "encoding": {"x": {"field": "g", "type": "nominal", "scale": {"type": "band", "domain": ["g1","g2","g3","g4"], "paddingInner": 0, "paddingOuter": 0.165}, "axis": {"title": null, "labels": false, "tickSize": 6}}},
              "resolve": {"scale": {"y": "independent"}, "axis": {"y": "independent"}},
              "layer": [
                {"data": {"name": "fS"}, "mark": {"type": "rule", "strokeWidth": 1.5, "color": "#000"}, "encoding": {"y": {"field": "lo", "type": "quantitative", "scale": {"domain": [0, 80], "nice": false, "zero": false}, "axis": {"orient": "left", "values": [0, 20, 40, 60, 80], "format": "d", "title": "Frequency (%)", "titleX": -36, "titleY": 101.7}}, "y2": {"field": "hi"}}},
                {"data": {"name": "fS"}, "mark": {"type": "tick", "size": 28, "color": "#000"}, "encoding": {"y": {"field": "med", "type": "quantitative", "scale": {"domain": [0, 80], "nice": false, "zero": false}, "axis": null}}},
                {"data": {"name": "fS"}, "mark": {"type": "tick", "size": 17, "color": "#000"}, "encoding": {"y": {"field": "lo", "type": "quantitative", "scale": {"domain": [0, 80], "nice": false, "zero": false}, "axis": null}}},
                {"data": {"name": "fS"}, "mark": {"type": "tick", "size": 17, "color": "#000"}, "encoding": {"y": {"field": "hi", "type": "quantitative", "scale": {"domain": [0, 80], "nice": false, "zero": false}, "axis": null}}},
                {"data": {"name": "fP"}, "mark": {"type": "circle", "size": 42, "strokeWidth": 1.6, "opacity": 1}, "encoding": {"xOffset": {"field": "dx", "type": "quantitative", "scale": {"domain": [-2.68, 2.68]}}, "y": {"field": "v", "type": "quantitative", "scale": {"domain": [0, 80], "nice": false, "zero": false}, "axis": null}, "fill": {"field": "k", "type": "nominal", "scale": {"domain": ["naive","vac","inf","hyb","conv"], "range": ["transparent","#0a0aee","transparent","#f04848","#22c322"]}, "legend": null}, "stroke": {"field": "k", "type": "nominal", "scale": {"domain": ["naive","vac","inf","hyb","conv"], "range": ["#0a0aee","#0a0aee","#f04848","#f04848","#1aa81a"]}, "legend": null}}},
                {"data": {"name": "fK"}, "mark": {"type": "rule", "strokeWidth": 1, "color": "#333"}, "encoding": {"x": {"field": "g1", "type": "nominal", "axis": null}, "x2": {"field": "g2"}, "y": {"field": "lvl", "type": "quantitative", "scale": {"domain": [0, 80], "nice": false, "zero": false}, "axis": null}}},
                {"data": {"name": "fK"}, "mark": {"type": "rule", "strokeWidth": 1, "color": "#333"}, "encoding": {"x": {"field": "g1", "type": "nominal", "axis": null}, "y": {"field": "lvl", "type": "quantitative", "scale": {"domain": [0, 80], "nice": false, "zero": false}, "axis": null}, "y2": {"field": "end"}}},
                {"data": {"name": "fK"}, "mark": {"type": "rule", "strokeWidth": 1, "color": "#333"}, "encoding": {"x": {"field": "g2", "type": "nominal", "axis": null}, "y": {"field": "lvl", "type": "quantitative", "scale": {"domain": [0, 80], "nice": false, "zero": false}, "axis": null}, "y2": {"field": "end"}}},
                {"data": {"name": "fK"}, "transform": [{"filter": "datum.txt != 'ns'"}], "mark": {"type": "text", "fontSize": 16, "baseline": "alphabetic", "dy": 4, "color": "#333"}, "encoding": {"x": {"field": "tg", "type": "nominal", "axis": null}, "xOffset": {"field": "tdx", "type": "quantitative", "scale": {"domain": [-2.68, 2.68]}}, "y": {"field": "lvl", "type": "quantitative", "scale": {"domain": [0, 80], "nice": false, "zero": false}, "axis": null}, "text": {"field": "txt"}}},
                {"data": {"name": "fK"}, "transform": [{"filter": "datum.txt == 'ns'"}], "mark": {"type": "text", "fontSize": 15, "baseline": "alphabetic", "dy": -6, "color": "#333"}, "encoding": {"x": {"field": "tg", "type": "nominal", "axis": null}, "xOffset": {"field": "tdx", "type": "quantitative", "scale": {"domain": [-2.68, 2.68]}}, "y": {"field": "lvl", "type": "quantitative", "scale": {"domain": [0, 80], "nice": false, "zero": false}, "axis": null}, "text": {"field": "txt"}}},
                {"data": {"name": "t4"}, "mark": {"type": "text", "fontSize": 21, "fontWeight": "bold", "baseline": "middle"}, "encoding": {"y": {"field": "r", "type": "nominal", "scale": {"type": "point", "domain": ["INF","VAC"], "range": [232.7, 256.7], "padding": 0}, "axis": {"orient": "left", "title": null, "domain": false, "ticks": false, "tickSize": 0, "labelPadding": 39, "labelAlign": "left", "labelFontWeight": "normal", "labelFontSize": 19, "labelBaseline": "middle"}}, "text": {"field": "s"}}}
              ]
            }
          ]
        }
      ]
    }
  ]
}
]
}
